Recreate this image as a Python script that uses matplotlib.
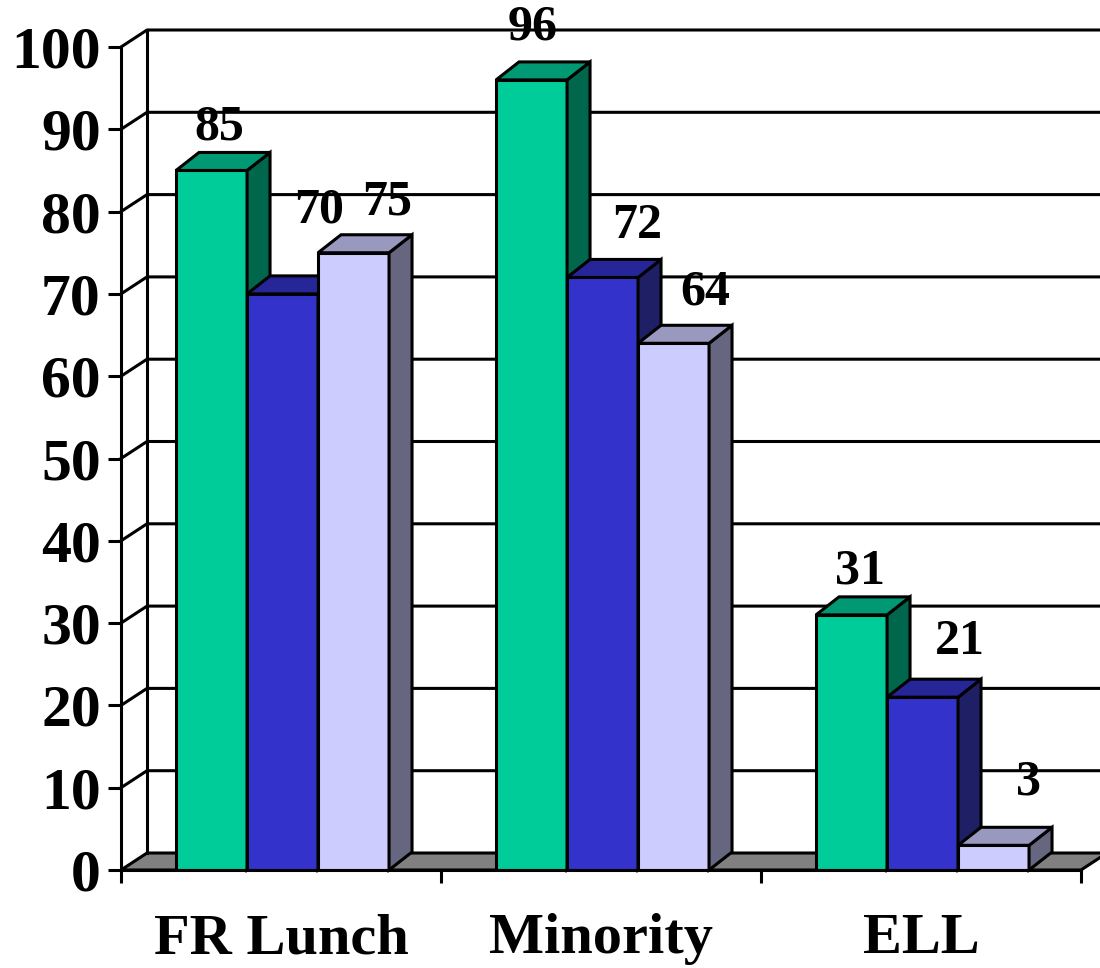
import matplotlib
matplotlib.use('Agg')
import matplotlib.pyplot as plt
from matplotlib.patches import Polygon

categories = ['FR Lunch', 'Minority', 'ELL']
series_a = [85, 96, 31]
series_b = [70, 72, 21]
series_c = [75, 64, 3]
yticks = list(range(0, 101, 10))

front_colors = ['#00CC99', '#3333CC', '#CCCCFF']
top_colors = ['#009973', '#262699', '#9999BF']
side_colors = ['#00664C', '#1F1F66', '#666680']

# label offsets (pixels) from the front-top centre of each bar, per group
label_offsets = [[(8, 43), (37, 83), (34, 50)],
                 [(1, 52), (35, 51), (32, 51)],
                 [(8, 43), (37, 55), (35, 63)]]

plt.rcParams['font.family'] = ['Liberation Serif', 'DejaVu Serif']
plt.rcParams['font.weight'] = 'bold'

fig = plt.figure(figsize=(11, 9.68), dpi=100)
ax_w, ax_h = 960, 823
ax = fig.add_axes([121 / 1100, 98 / 968, ax_w / 1100, ax_h / 968])
ax.set_xlim(0, 3)
ax.set_ylim(0, 100)

px_x = ax_w / 3
px_y = ax_h / 100


def px(dx, dy):
    return dx / px_x, dy / px_y


wall_dx, wall_dy = px(26, 17)
bar_dx, bar_dy = px(23, 18)
lw = 2.2

# floor
floor = Polygon([(0, 0), (3, 0), (3 + wall_dx, wall_dy), (wall_dx, wall_dy)],
                closed=True, fc='#808080', ec='black', lw=lw, clip_on=False, zorder=1)
ax.add_patch(floor)

# back wall + side wall gridlines
ax.plot([wall_dx, wall_dx], [wall_dy, 100 + wall_dy], color='black', lw=lw,
        clip_on=False, zorder=1.5)
for t in yticks[1:]:
    ax.plot([0, wall_dx, 3 + wall_dx], [t, t + wall_dy, t + wall_dy],
            color='black', lw=lw, clip_on=False, zorder=1.5)

bar_w = 71 / px_x
start = 0.172
series = [series_a, series_b, series_c]

for g in range(len(categories)):
    for s, vals in enumerate(series):
        v = vals[g]
        x0 = g + start + s * bar_w
        z = 3 + g * 3 + s
        ax.bar(x0, v, bar_w, align='edge', color=front_colors[s],
               edgecolor='black', lw=lw, zorder=z)
        top = Polygon([(x0, v), (x0 + bar_w, v), (x0 + bar_w + bar_dx, v + bar_dy),
                       (x0 + bar_dx, v + bar_dy)], closed=True, fc=top_colors[s],
                      ec='black', lw=lw, clip_on=False, zorder=z)
        side = Polygon([(x0 + bar_w, 0), (x0 + bar_w + bar_dx, bar_dy),
                        (x0 + bar_w + bar_dx, v + bar_dy), (x0 + bar_w, v)], closed=True,
                       fc=side_colors[s], ec='black', lw=lw, clip_on=False, zorder=z)
        ax.add_patch(side)
        ax.add_patch(top)
        ox, oy = label_offsets[g][s]
        ax.annotate(str(v), (x0 + bar_w / 2, v), xytext=(ox, oy),
                    textcoords='offset pixels', ha='center', va='center',
                    fontsize=36, fontweight='bold', zorder=30, annotation_clip=False)

ax.set_yticks(yticks)
ax.tick_params(axis='y', length=9.5, width=lw, pad=5, labelsize=43)
ax.set_xticks([0, 1, 2, 3])
ax.set_xticklabels([])
ax.set_xticks([0.5, 1.5, 2.5], minor=True)
ax.set_xticklabels(categories, minor=True)
ax.tick_params(axis='x', which='major', length=9.5, width=lw)
ax.tick_params(axis='x', which='minor', length=0, pad=31, labelsize=42)

for side_name in ['top', 'right']:
    ax.spines[side_name].set_visible(False)
for side_name in ['left', 'bottom']:
    ax.spines[side_name].set_linewidth(lw)
    ax.spines[side_name].set_zorder(20)
ax.patch.set_alpha(0)

fig.savefig('out.png', dpi=100)
